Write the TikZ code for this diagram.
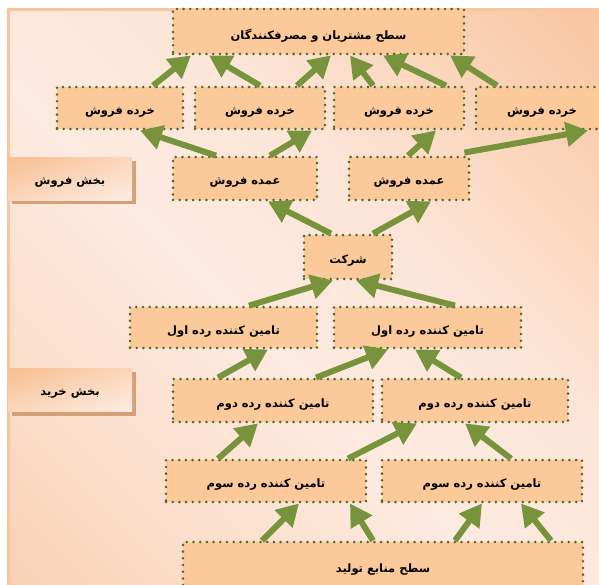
\documentclass[tikz,border=0pt]{standalone}
\usepackage{fontspec}
\newfontfamily\arfont[Script=Arabic]{DejaVu Sans}
\TeXXeTstate=1
\usetikzlibrary{arrows.meta,shadings}
\newcommand{\rtltxt}[1]{\raisebox{-4pt}[\height][\depth]{\beginR #1\endR}}
\definecolor{boxfill}{HTML}{FBC99A}
\definecolor{dotgreen}{HTML}{4B6629}
\definecolor{argreen}{HTML}{77933C}
\definecolor{bgA}{HTML}{F5BF96}
\definecolor{bgB}{HTML}{FADBC6}
\definecolor{bgC}{HTML}{FDEAE0}
\definecolor{bgD}{HTML}{FCE5D8}
\definecolor{bgE}{HTML}{F9CBA9}
\definecolor{bgF}{HTML}{F5B88A}
\definecolor{bgframe}{HTML}{FAC59C}
\definecolor{lblA}{HTML}{F8BE90}
\definecolor{lblB}{HTML}{FBD6BB}
\definecolor{lblC}{HTML}{FDECE2}
\definecolor{shadowc}{HTML}{D4A077}
\pgfdeclareverticalshading{bgsh}{100bp}{color(0bp)=(bgA); color(25bp)=(bgB); color(45bp)=(bgC); color(60bp)=(bgD); color(80bp)=(bgE); color(100bp)=(bgF)}
\begin{document}
\begin{tikzpicture}[x=1pt,y=-1pt,
  box/.style={fill=boxfill, draw=dotgreen, line width=2.8pt, dash pattern=on 0pt off 6.7pt,
    line cap=round, minimum height=42pt, inner sep=0pt,
    font=\arfont\bfseries\fontsize{11.5}{13}\selectfont},
  lbl/.style={minimum width=124pt, minimum height=43pt, inner sep=0pt,
    upper left=lblA, upper right=lblB, lower left=lblB, lower right=lblC,
    font=\arfont\bfseries\fontsize{11.5}{13}\selectfont},
  conn/.style={draw=argreen, line width=6pt, -{Triangle[length=22pt,width=24pt]}}
]
\useasboundingbox (0,0) rectangle (599,584);
% background
\shade[shading=bgsh, shading angle=-45] (8,9) rectangle (610,600);
\draw[bgframe, line width=3pt] (8,610) -- (8,9) -- (610,9);
% section labels
\fill[shadowc] (12,161) rectangle (136,204);
\node[lbl] (L1) at (70,178.5) {\rtltxt{بخش فروش}};
\fill[shadowc] (12,372) rectangle (136,416);
\node[lbl] (L2) at (70,390) {\rtltxt{بخش خرید}};
% boxes
\node[box, minimum width=291pt, minimum height=45pt] (top) at (318.5,31.5) {\rtltxt{سطح مشتریان و مصرفکنندگان}};
\node[box, minimum width=126pt] (R1) at (120,108) {\rtltxt{خرده فروش}};
\node[box, minimum width=130pt] (R2) at (260,108) {\rtltxt{خرده فروش}};
\node[box, minimum width=130pt] (R3) at (399,108) {\rtltxt{خرده فروش}};
\node[box, minimum width=132pt] (R4) at (542,108) {\rtltxt{خرده فروش}};
\node[box, minimum width=144pt, minimum height=43pt] (W1) at (245,178.5) {\rtltxt{عمده فروش}};
\node[box, minimum width=120pt, minimum height=43pt] (W2) at (409,178.5) {\rtltxt{عمده فروش}};
\node[box, minimum width=88pt, minimum height=44pt] (S) at (348,257) {\rtltxt{شرکت}};
\node[box, minimum width=187pt, minimum height=41pt] (T1a) at (223.5,327.5) {\rtltxt{تامین کننده رده اول}};
\node[box, minimum width=187pt, minimum height=41pt] (T1b) at (427.5,327.5) {\rtltxt{تامین کننده رده اول}};
\node[box, minimum width=200pt, minimum height=43pt] (T2a) at (273,400.5) {\rtltxt{تامین کننده رده دوم}};
\node[box, minimum width=186pt, minimum height=43pt] (T2b) at (475,400.5) {\rtltxt{تامین کننده رده دوم}};
\node[box, minimum width=200pt] (T3a) at (266,481) {\rtltxt{تامین کننده رده سوم}};
\node[box, minimum width=200pt] (T3b) at (482,481) {\rtltxt{تامین کننده رده سوم}};
\node[box, minimum width=400pt, minimum height=48pt] (B) at (383,566) {\rtltxt{سطح منابع تولید}};
% connectors
\draw[conn] ([xshift=33]R1.north) -- ([xshift=-127.5]top.south);
\draw[conn] ([xshift=0]R2.north) -- ([xshift=-109.5]top.south);
\draw[conn] ([xshift=37]R2.north) -- ([xshift=12.5]top.south);
\draw[conn] ([xshift=-26]R3.north) -- ([xshift=31.5]top.south);
\draw[conn] ([xshift=47]R3.north) -- ([xshift=64.5]top.south);
\draw[conn] ([xshift=-45]R4.north) -- ([xshift=131.5]top.south);
\draw[conn] ([xshift=-29]W1.north) -- ([xshift=20]R1.south);
\draw[conn] ([xshift=25]W1.north) -- ([xshift=52]R2.south);
\draw[conn] ([xshift=-1]W2.north) -- ([xshift=37]R3.south);
\draw[conn] ([xshift=-6,yshift=3]W2.north east) -- ([xshift=46]R4.south);
\draw[conn] ([xshift=-17]S.north) -- ([xshift=23]W1.south);
\draw[conn] ([xshift=25]S.north) -- ([xshift=22]W2.south);
\draw[conn] ([xshift=25.5]T1a.north) -- ([xshift=-15]S.south);
\draw[conn] ([xshift=27.5]T1b.north) -- ([xshift=8]S.south);
\draw[conn] ([xshift=-55]T2a.north) -- ([xshift=44.5]T1a.south);
\draw[conn] ([xshift=43]T2a.north) -- ([xshift=-39.5]T1b.south);
\draw[conn] ([xshift=-14]T2b.north) -- ([xshift=-12.5]T1b.south);
\draw[conn] ([xshift=-48]T3a.north) -- ([xshift=-15]T2a.south);
\draw[conn] ([xshift=82]T3a.north) -- ([xshift=-58]T2b.south);
\draw[conn] ([xshift=29]T3b.north) -- ([xshift=-10]T2b.south);
\draw[conn] ([xshift=-121]B.north) -- ([xshift=33]T3a.south);
\draw[conn] ([xshift=-10]B.north) -- ([xshift=84]T3a.south);
\draw[conn] ([xshift=72]B.north) -- ([xshift=0]T3b.south);
\draw[conn] ([xshift=168]B.north) -- ([xshift=39]T3b.south);
\end{tikzpicture}
\end{document}
